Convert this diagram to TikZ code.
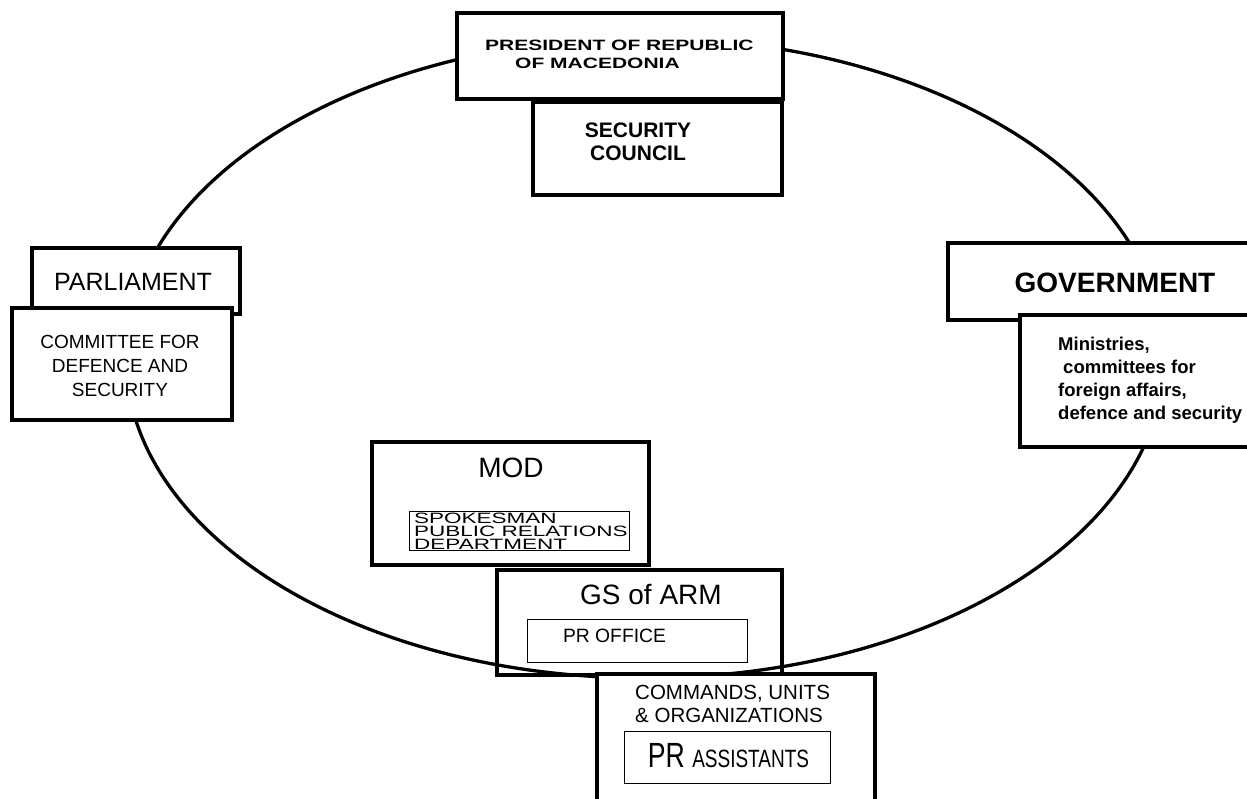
\documentclass[tikz,border=0pt]{standalone}
\usepackage{fontspec}
\setmainfont{Liberation Sans}

\newcommand{\wide}[1]{\scalebox{1.4}[1]{#1}}
\newcommand{\wider}[1]{\scalebox{1.5}[1]{#1}}
\newcommand{\narrow}[1]{\scalebox{0.76}[1]{#1}}

\tikzset{
  bigbox/.style={line width=3.5pt, fill=white},
  thinbox/.style={line width=0.9pt, fill=white},
  txt/.style={inner sep=0pt, align=center},
}

\begin{document}
\begin{tikzpicture}[x=1pt, y=-1pt]
  \useasboundingbox (0,0) rectangle (1247,799);
  \clip (0,0) rectangle (1247,799);

  % ring and the boxes on it
  \draw[line width=3.3pt] (645,358) ellipse [x radius=519, y radius=320];
  \draw[line width=3.5pt] (497,570) rectangle (782,675);
  \foreach \xa/\ya/\xb/\yb in {457/13/783/99, 533/102/782/195, 32/248/240/314,
      12/308/232/420, 948/243/1260/320, 1020/315/1260/447, 372/442/649/565,
      597/674/875/810}{
    \draw[bigbox] (\xa,\ya) rectangle (\xb,\yb);
  }
  \draw[thinbox] (409,511) rectangle (629,550);
  \draw[thinbox] (527,619) rectangle (747,662);
  \draw[thinbox] (624,731) rectangle (830,783);

  % texts
  \node[txt, anchor=west, font=\bfseries\fontsize{15}{18}\selectfont] (pres1) at (485,45) {\wide{PRESIDENT OF REPUBLIC}};
  \node[txt, anchor=west, font=\bfseries\fontsize{15}{18}\selectfont] (pres2) at (515,63) {\wide{OF MACEDONIA}};
  \node[txt, font=\bfseries\fontsize{21}{23}\selectfont] (seccouncil) at (638,141.5) {SECURITY\\COUNCIL};
  \node[txt, font=\fontsize{25}{30}\selectfont] (parl) at (133,282) {PARLIAMENT};
  \node[txt, font=\fontsize{19}{24}\selectfont] (committee) at (120,366) {COMMITTEE FOR\\DEFENCE AND\\SECURITY};
  \node[txt, font=\bfseries\fontsize{28}{32}\selectfont] (gov) at (1115,283) {GOVERNMENT};
  \node[txt, anchor=west, align=left, font=\bfseries\fontsize{18.5}{23}\selectfont] (ministries) at (1058,380.5)
    {Ministries,\\\hspace*{5pt}committees for\\foreign affairs,\\defence and security};
  \node[txt, font=\fontsize{28}{32}\selectfont] (mod) at (511,468) {MOD};
  \node[txt, anchor=north west, align=left, font=\fontsize{15}{13}\selectfont] (spokes) at (414,512.5)
    {\wider{SPOKESMAN}\\\wider{PUBLIC RELATIONS}\\\wider{DEPARTMENT}};
  \node[txt, font=\fontsize{28}{32}\selectfont] (gsarm) at (651,595) {GS of ARM};
  \node[txt, font=\fontsize{19.3}{23}\selectfont] (proffice) at (614.5,636) {PR OFFICE};
  \node[txt, anchor=west, align=left, font=\fontsize{20.5}{23}\selectfont] (commands) at (635,703.5)
    {COMMANDS, UNITS\\\& ORGANIZATIONS};
  \node[txt, anchor=base] (prassist) at (728.5,767)
    {\narrow{\fontsize{35}{40}\selectfont PR \fontsize{25}{30}\selectfont ASSISTANTS}};
\end{tikzpicture}
\end{document}
